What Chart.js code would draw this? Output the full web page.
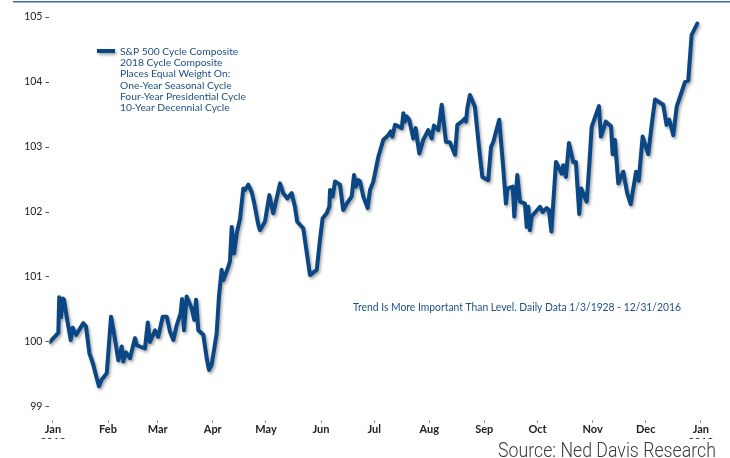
<!DOCTYPE html>
<html>
<head>
<meta charset="utf-8">
<script src="https://cdn.jsdelivr.net/npm/chart.js@4/dist/chart.umd.min.js"></script>
<style>
  html, body { margin: 0; padding: 0; background: #ffffff; }
  #wrap { position: relative; width: 730px; height: 458px; }
</style>
</head>
<body>
<div id="wrap"><canvas id="c" width="730" height="458"></canvas></div>
<script>
// ---- Data (day of year 2018, composite value) ----
const days = [
  -1.7, 3.0, 3.5, 4.5, 5.5, 6.2, 7.7, 10.0, 11.1, 13.0, 17.1, 18.6, 20.5, 22.7, 24.2, 25.9, 27.4, 30.3,
  32.7, 34.4, 36.8, 38.7, 39.6, 41.1, 43.4, 46.2, 47.2, 51.8, 53.4, 54.6, 57.5, 59.3, 61.8, 64.1, 65.9,
  67.8, 69.7, 71.9, 72.7, 73.8, 75.3, 78.1, 79.6, 80.6, 81.9, 84.7, 86.6, 87.9, 89.4, 92.2, 93.5, 95.0,
  95.9, 98.2, 99.7, 100.7, 102.0, 103.5, 105.4, 107.2, 108.2, 110.0, 111.9, 113.2, 115.7, 116.6, 119.4,
  121.9, 124.1, 126.0, 127.9, 129.7, 132.0, 134.5, 136.3, 137.6, 141.0, 144.8, 148.6, 150.4, 151.9,
  154.2, 155.7, 156.1, 157.6, 158.9, 161.7, 163.5, 165.5, 168.3, 169.6, 170.7, 172.0, 173.0, 174.8,
  177.3, 178.6, 180.5, 183.3, 186.1, 188.9, 190.3, 191.2, 192.7, 194.5, 196.5, 197.4, 198.3, 199.3,
  200.7, 203.0, 204.3, 206.4, 208.6, 211.4, 213.4, 214.6, 217.1, 219.0, 221.4, 223.7, 226.5, 227.8,
  230.3, 232.1, 232.7, 233.4, 234.9, 237.7, 240.2, 241.9, 245.2, 246.8, 248.1, 251.4, 253.7, 255.2,
  256.0, 259.0, 259.9, 261.6, 263.1, 265.9, 266.9, 267.8, 268.7, 269.7, 274.4, 275.9, 278.1, 279.4,
  280.8, 283.4, 286.6, 287.5, 289.0, 290.7, 293.1, 294.6, 296.5, 297.6, 300.7, 302.1, 303.5, 307.6,
  308.7, 311.5, 314.4, 315.3, 316.6, 318.5, 321.3, 323.5, 325.5, 328.5, 330.0, 332.2, 335.4, 337.3,
  339.2, 343.8, 345.7, 347.2, 349.5, 351.4, 356.1, 357.9, 359.8, 363.0
];
const values = [
  100.00, 100.14, 100.69, 100.38, 100.67, 100.65, 100.39, 100.03, 100.22, 100.11, 100.29, 100.24, 99.83, 99.65, 99.49, 99.32, 99.42, 99.52,
  100.39, 100.13, 99.72, 99.93, 99.70, 99.84, 99.75, 100.06, 99.95, 99.90, 100.30, 100.00, 100.18, 100.08, 100.39, 100.39, 100.16,
  100.03, 100.26, 100.44, 100.66, 100.18, 100.70, 100.52, 100.34, 100.65, 100.18, 100.11, 99.75, 99.57, 99.65, 100.13, 100.70, 101.11,
  100.95, 101.11, 101.24, 101.77, 101.36, 101.67, 101.90, 102.36, 102.34, 102.42, 102.31, 102.16, 101.80, 101.72, 101.85,
  102.26, 101.98, 102.21, 102.44, 102.29, 102.21, 102.29, 102.08, 101.85, 101.75, 101.03, 101.11, 101.57, 101.90,
  101.98, 102.08, 102.34, 102.24, 102.47, 102.42, 102.03, 102.13, 102.24, 102.57, 102.39, 102.49, 102.47, 102.24,
  102.06, 102.34, 102.47, 102.85, 103.11, 103.18, 103.24, 103.16, 103.34, 103.32, 103.29, 103.52, 103.39, 103.47,
  103.42, 103.13, 103.29, 102.90, 103.11, 103.26, 103.13, 103.33, 103.26, 103.65, 103.08, 103.07, 102.88, 103.34,
  103.39, 103.44, 103.39, 103.59, 103.80, 103.62, 102.95, 102.54, 102.49, 103.00, 103.08, 103.42, 102.67, 102.13,
  102.36, 102.39, 101.93, 102.57, 102.16, 102.13, 101.77, 102.08, 101.72, 101.93, 102.08, 102.00, 102.06, 102.03,
  101.70, 102.77, 102.59, 102.72, 102.54, 103.06, 102.77, 102.77, 101.97, 102.36, 102.16, 102.70, 103.31, 103.63,
  103.16, 103.39, 103.32, 102.89, 103.11, 102.44, 102.62, 102.29, 102.12, 102.62, 102.48, 103.16, 102.89, 103.34,
  103.73, 103.65, 103.34, 103.42, 103.18, 103.62, 104.00, 104.02, 104.72, 104.90
];
const monthDays = [0, 31, 59, 90, 120, 151, 181, 212, 243, 273, 304, 334, 365];
const monthLabels = ['Jan','Feb','Mar','Apr','May','Jun','Jul','Aug','Sep','Oct','Nov','Dec','Jan'];
const yearLabels = ['2018','','','','','','','','','','','','2019'];
const yTicks = [99, 100, 101, 102, 103, 104, 105];
const legendLines = [
  'S&P 500 Cycle Composite',
  '2018 Cycle Composite',
  'Places Equal Weight On:',
  'One-Year Seasonal Cycle',
  'Four-Year Presidential Cycle',
  '10-Year Decennial Cycle'
];
const noteText = 'Trend Is More Important Than Level. Daily Data 1/3/1928 - 12/31/2016';
const sourceText = 'Source: Ned Davis Research';

const LINE = '#0b4784';
const TEXTBLUE = '#1d4f8c';

const shadowPlugin = {
  id: 'shadow',
  beforeDatasetDraw(chart) {
    const ctx = chart.ctx;
    ctx.save();
    ctx.shadowColor = 'rgba(0,0,0,0.35)';
    ctx.shadowBlur = 3;
    ctx.shadowOffsetX = 1.5;
    ctx.shadowOffsetY = 2;
  },
  afterDatasetDraw(chart) {
    chart.ctx.restore();
  }
};

const decorPlugin = {
  id: 'decor',
  afterDraw(chart) {
    const ctx = chart.ctx;
    ctx.save();
    // top rule
    ctx.strokeStyle = '#3a6ea9';
    ctx.lineWidth = 1.5;
    ctx.beginPath();
    ctx.moveTo(13, 1.75);
    ctx.lineTo(730, 1.75);
    ctx.stroke();

    // legend swatch
    ctx.save();
    ctx.shadowColor = 'rgba(0,0,0,0.35)';
    ctx.shadowBlur = 3;
    ctx.shadowOffsetX = 1.5;
    ctx.shadowOffsetY = 2;
    ctx.strokeStyle = LINE;
    ctx.lineWidth = 4;
    ctx.beginPath();
    ctx.moveTo(97, 51);
    ctx.lineTo(115, 51);
    ctx.stroke();
    ctx.restore();

    // legend text
    ctx.fillStyle = TEXTBLUE;
    ctx.font = '10.3px Lato';
    ctx.textBaseline = 'middle';
    ctx.textAlign = 'left';
    legendLines.forEach((t, i) => {
      ctx.fillText(t, 120, 51.5 + i * 11.3);
    });

    // annotation
    ctx.font = '11px Lato';
    ctx.fillText(noteText, 353, 307, 328);

    // mask bottom & source
    ctx.fillStyle = '#ffffff';
    ctx.fillRect(0, 439, 730, 19);
    ctx.fillStyle = '#3a3a3a';
    ctx.font = '300 20px Roboto';
    ctx.textBaseline = 'alphabetic';
    ctx.fillText(sourceText, 498, 457, 218);
    ctx.restore();
  }
};

new Chart(document.getElementById('c'), {
  type: 'line',
  data: {
    datasets: [{
      data: days.map((d, i) => ({ x: d, y: values[i] })),
      borderColor: LINE,
      borderWidth: 4,
      pointRadius: 0,
      tension: 0,
      fill: false,
      borderJoinStyle: 'round',
      borderCapStyle: 'round'
    }]
  },
  options: {
    responsive: false,
    animation: false,
    devicePixelRatio: 1,
    layout: { padding: { left: 0, right: 27.4, top: 4, bottom: 0 } },
    plugins: { legend: { display: false }, tooltip: { enabled: false } },
    scales: {
      x: {
        type: 'linear',
        min: -2,
        max: 366,
        afterBuildTicks(scale) { scale.ticks = monthDays.map(v => ({ value: v })); },
        afterFit(scale) { scale.height = 38; scale.paddingLeft = 0; scale.paddingRight = 0; },
        grid: { drawOnChartArea: false, drawTicks: true, tickLength: 3, color: '#999999', lineWidth: 1 },
        border: { display: false },
        ticks: {
          autoSkip: false,
          maxRotation: 0,
          padding: 0,
          color: '#222222',
          font: { family: 'Lato', size: 11, weight: 'bold', lineHeight: 1.15 },
          callback(value, index) {
            return yearLabels[index] ? [monthLabels[index], yearLabels[index]] : monthLabels[index];
          }
        }
      },
      y: {
        min: 98.8,
        max: 105.2,
        afterBuildTicks(scale) { scale.ticks = yTicks.map(v => ({ value: v })); },
        afterFit(scale) { scale.width = 49.45; scale.paddingTop = 0; scale.paddingBottom = 0; },
        grid: { drawOnChartArea: false, drawTicks: true, tickLength: 4, color: '#555555', lineWidth: 1 },
        border: { display: false },
        ticks: {
          padding: 3,
          color: '#222222',
          font: { family: 'Lato', size: 10.5 },
          callback(value) { return String(value); }
        }
      }
    }
  },
  plugins: [shadowPlugin, decorPlugin]
});
</script>
</body>
</html>
